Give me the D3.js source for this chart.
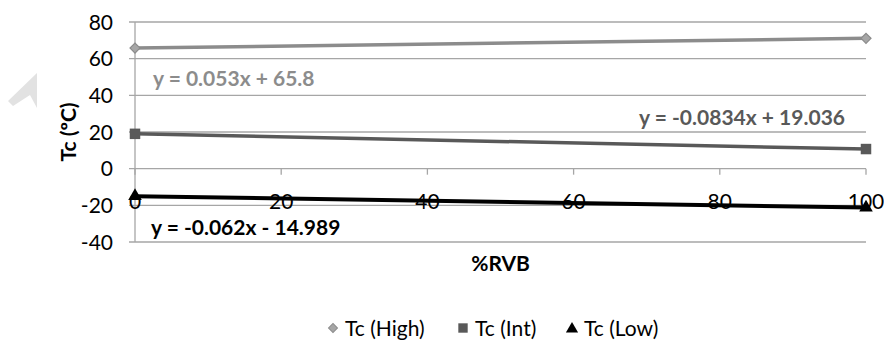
<!DOCTYPE html>
<html>
<head>
<meta charset="utf-8">
<script src="https://cdn.jsdelivr.net/npm/d3@7"></script>
<style>
  body { margin: 0; background: #fff; }
  svg { font-family: Lato, "Open Sans", sans-serif; }
</style>
</head>
<body>
<script>
// data
var xValues = [0, 100];
var highValues = [65.8, 71.1];
var intValues = [19.0, 10.7];
var lowValues = [-15.0, -21.2];
var seriesNames = ["Tc (High)", "Tc (Int)", "Tc (Low)"];
var trendLabels = ["y = 0.053x + 65.8", "y = -0.0834x + 19.036", "y = -0.062x - 14.989"];
var xTicks = [0, 20, 40, 60, 80, 100];
var yTicks = [-40, -20, 0, 20, 40, 60, 80];

var width = 884, height = 345;
var margin = {left: 135, right: 18, top: 22, bottom: 103};
var fs = 21;

var svg = d3.select("body").append("svg")
  .attr("width", width)
  .attr("height", height);

var xScale = d3.scaleLinear().domain([0, 100]).range([margin.left, width - margin.right]);
var yScale = d3.scaleLinear().domain([-40, 80]).range([height - margin.bottom, margin.top]);

// faint watermark shape at left
svg.append("path")
  .attr("d", "M37,73 L37,108 L30,95 L13,106 L8,101 Z")
  .attr("fill", "#e2e2e2");

// horizontal gridlines
svg.append("g").selectAll("line").data(yTicks).enter().append("line")
  .attr("x1", margin.left - 6).attr("x2", width - margin.right)
  .attr("y1", function(d){ return yScale(d); })
  .attr("y2", function(d){ return yScale(d); })
  .attr("stroke", "#a6a6a6").attr("stroke-width", 1.3);

// y axis line
svg.append("line")
  .attr("x1", margin.left).attr("x2", margin.left)
  .attr("y1", yScale(80)).attr("y2", yScale(-40))
  .attr("stroke", "#a6a6a6").attr("stroke-width", 1.3);

// y tick labels
svg.append("g").selectAll("text").data(yTicks).enter().append("text")
  .attr("x", margin.left - 22)
  .attr("y", function(d){ return yScale(d); })
  .attr("dy", "0.36em")
  .attr("text-anchor", "end")
  .attr("font-size", fs)
  .attr("fill", "#000")
  .text(function(d){ return d; });

// x ticks on the zero line
svg.append("g").selectAll("line").data(xTicks).enter().append("line")
  .attr("x1", function(d){ return xScale(d); })
  .attr("x2", function(d){ return xScale(d); })
  .attr("y1", yScale(0)).attr("y2", yScale(0) + 6)
  .attr("stroke", "#a6a6a6").attr("stroke-width", 1.3);

// series lines and markers (diamond = square turned 45 degrees)
var series = [
  {name: seriesNames[0], values: highValues, color: "#8c8c8c", width: 3.5, shape: d3.symbolSquare, size: 50, rot: 45},
  {name: seriesNames[1], values: intValues, color: "#595959", width: 3.5, shape: d3.symbolSquare, size: 110, rot: 0},
  {name: seriesNames[2], values: lowValues, color: "#000000", width: 4, shape: d3.symbolTriangle, size: 80, rot: 0}
];

var line = d3.line()
  .x(function(d){ return xScale(d[0]); })
  .y(function(d){ return yScale(d[1]); });

series.forEach(function(s){
  var pts = xValues.map(function(x, i){ return [x, s.values[i]]; });
  svg.append("path")
    .attr("d", line(pts))
    .attr("fill", "none")
    .attr("stroke", s.color)
    .attr("stroke-width", s.width);
  svg.append("g").selectAll("path").data(pts).enter().append("path")
    .attr("transform", function(d){ return "translate(" + xScale(d[0]) + "," + yScale(d[1]) + ") rotate(" + s.rot + ")"; })
    .attr("d", d3.symbol().type(s.shape).size(s.size))
    .attr("fill", s.name == seriesNames[0] ? "#a6a6a6" : s.color)
    .attr("stroke", s.name == seriesNames[0] ? "#8c8c8c" : "none")
    .attr("stroke-width", 1.2);
});

// x tick labels (drawn over the lines, like the original)
svg.append("g").selectAll("text").data(xTicks).enter().append("text")
  .attr("x", function(d){ return xScale(d); })
  .attr("y", yScale(0) + 33)
  .attr("dy", "0.36em")
  .attr("text-anchor", "middle")
  .attr("font-size", fs)
  .attr("fill", "#000")
  .text(function(d){ return d; });

// trendline equations
var trendPos = [
  {x: 153, y: 78, anchor: "start", color: "#8c8c8c"},
  {x: 845, y: 117, anchor: "end", color: "#595959"},
  {x: 151, y: 227, anchor: "start", color: "#000000"}
];
svg.append("g").selectAll("text").data(trendLabels).enter().append("text")
  .attr("x", function(d, i){ return trendPos[i].x; })
  .attr("y", function(d, i){ return trendPos[i].y; })
  .attr("dy", "0.36em")
  .attr("text-anchor", function(d, i){ return trendPos[i].anchor; })
  .attr("font-size", fs)
  .attr("font-weight", "bold")
  .attr("fill", function(d, i){ return trendPos[i].color; })
  .text(function(d){ return d; });

// axis titles
svg.append("text")
  .attr("x", (margin.left + width - margin.right) / 2)
  .attr("y", 263)
  .attr("dy", "0.36em")
  .attr("text-anchor", "middle")
  .attr("font-size", fs)
  .attr("font-weight", "bold")
  .text("%RVB");

svg.append("text")
  .attr("transform", "translate(68," + ((yScale(80) + yScale(-40)) / 2) + ") rotate(-90)")
  .attr("dy", "0.36em")
  .attr("text-anchor", "middle")
  .attr("font-size", fs)
  .attr("font-weight", "bold")
  .text("Tc (ºC)");

// legend
var legendX = [333, 463, 572];
var legend = svg.append("g").selectAll("g").data(series).enter().append("g")
  .attr("transform", function(d, i){ return "translate(" + legendX[i] + ",328)"; });
legend.append("path")
  .attr("d", function(d){ return d3.symbol().type(d.shape).size(d.size * 0.8)(); })
  .attr("fill", function(d, i){ return i == 0 ? "#a6a6a6" : d.color; })
  .attr("stroke", function(d, i){ return i == 0 ? "#8c8c8c" : "none"; })
  .attr("transform", function(d, i){ return "translate(0," + (i == 2 ? 1 : 0) + ") rotate(" + d.rot + ")"; });
legend.append("text")
  .attr("x", 12)
  .attr("dy", "0.36em")
  .attr("font-size", fs)
  .text(function(d){ return d.name; });
</script>
</body>
</html>
